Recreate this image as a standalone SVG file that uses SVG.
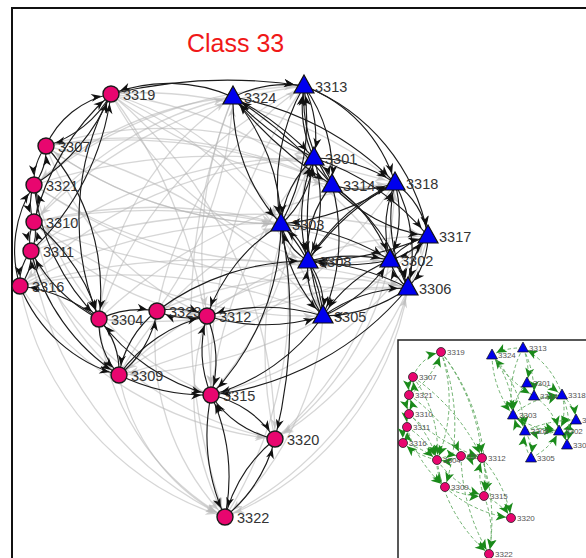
<svg xmlns="http://www.w3.org/2000/svg" xmlns:xlink="http://www.w3.org/1999/xlink" width="586" height="558" viewBox="0 0 586 558">
<style>
.d{fill:none;stroke:#1c1c1c;stroke-width:1.15;marker-end:url(#ad)}
.g{fill:none;stroke:#b4b4b4;stroke-width:1.3;stroke-opacity:0.55;marker-end:url(#ag)}
.i{fill:none;stroke:#5fa85f;stroke-width:0.9;stroke-dasharray:3.5 2.5;marker-end:url(#ai)}
.c{fill:#E8066F;stroke:#1a1a1a;stroke-width:1.4}
.t{fill:#0000EE;stroke:#111;stroke-width:1.2}
.cs{fill:#E8066F;stroke:#222;stroke-width:0.8}
.ts{fill:#0000EE;stroke:#111;stroke-width:0.7}
.l{font-family:"Liberation Sans",Arial,sans-serif;font-size:14.5px;fill:#333}
.s{font-family:"Liberation Sans",Arial,sans-serif;font-size:8px;fill:#555}
</style>
<defs>
<marker id="ad" viewBox="0 0 10 8" refX="20" refY="4" markerWidth="10" markerHeight="8" markerUnits="userSpaceOnUse" orient="auto" overflow="visible"><path d="M0,0 L10,4 L0,8 L3,4 Z" fill="#111"/></marker>
<marker id="ag" viewBox="0 0 10 8" refX="20" refY="4" markerWidth="10" markerHeight="8" markerUnits="userSpaceOnUse" orient="auto" overflow="visible"><path d="M0,0 L10,4 L0,8 L3,4 Z" fill="#bbb" fill-opacity="0.7"/></marker>
<marker id="ai" viewBox="0 0 10 9" refX="15" refY="4.5" markerWidth="10" markerHeight="9" markerUnits="userSpaceOnUse" orient="auto" overflow="visible"><path d="M0,0 L10,4.5 L0,9 L2.5,4.5 Z" fill="#1a8a1a"/></marker>
<path id="tri" d="M0,-11 L10,7 L-10,7 Z"/>
<path id="trs" d="M0,-6 L5.5,4 L-5.5,4 Z"/>
</defs>
<rect width="586" height="558" fill="#fff"/>
<rect x="12" y="8" width="640" height="620" fill="none" stroke="#111" stroke-width="2"/>
<text x="187" y="52" font-family="Liberation Sans, Arial, sans-serif" font-size="25" fill="#F01818">Class 33</text>

<g id="edges">
<g id="edges-weak">
<path class="g" d="M111 94 A300 300 0 0 1 281 224"/>
<path class="g" d="M111 94 A350 350 0 0 0 308 261"/>
<path class="g" d="M111 94 A400 400 0 0 1 323 316"/>
<path class="g" d="M111 94 A400 400 0 0 1 390 260"/>
<path class="g" d="M111 94 A500 500 0 0 1 211 395"/>
<path class="g" d="M111 94 A450 450 0 0 1 275 439"/>
<path class="g" d="M46 146 A400 400 0 0 1 314 158"/>
<path class="g" d="M46 146 A400 400 0 0 0 281 224"/>
<path class="g" d="M46 146 A500 500 0 0 1 332 185"/>
<path class="g" d="M46 146 A300 300 0 0 0 207 316"/>
<path class="g" d="M34 185 A450 450 0 0 1 304 86"/>
<path class="g" d="M34 185 A600 600 0 0 1 395 183"/>
<path class="g" d="M34 185 A450 450 0 0 0 308 261"/>
<path class="g" d="M34 185 A300 300 0 0 0 211 395"/>
<path class="g" d="M34 222 A350 350 0 0 1 233 97"/>
<path class="g" d="M34 222 A500 500 0 0 1 281 224"/>
<path class="g" d="M34 222 A450 450 0 0 0 323 316"/>
<path class="g" d="M34 222 A600 600 0 0 1 390 260"/>
<path class="g" d="M34 222 A300 300 0 0 0 207 316"/>
<path class="g" d="M31 251 A450 450 0 0 1 314 158"/>
<path class="g" d="M31 251 A700 700 0 0 1 428 236"/>
<path class="g" d="M31 251 A350 350 0 0 0 275 439"/>
<path class="g" d="M20 286 A500 500 0 0 1 281 224"/>
<path class="g" d="M20 286 A700 700 0 0 1 408 288"/>
<path class="g" d="M20 286 A300 300 0 0 0 225 517"/>
<path class="g" d="M20 286 A350 350 0 0 0 275 439"/>
<path class="g" d="M99 319 A300 300 0 0 1 233 97"/>
<path class="g" d="M99 319 A500 500 0 0 1 395 183"/>
<path class="g" d="M99 319 A250 250 0 0 0 225 517"/>
<path class="g" d="M157 311 A350 350 0 0 1 304 86"/>
<path class="g" d="M157 311 A400 400 0 0 1 408 288"/>
<path class="g" d="M157 311 A250 250 0 0 0 225 517"/>
<path class="g" d="M207 316 A350 350 0 0 1 428 236"/>
<path class="g" d="M207 316 A250 250 0 0 0 225 517"/>
<path class="g" d="M119 375 A350 350 0 0 1 281 224"/>
<path class="g" d="M119 375 A400 400 0 0 1 390 260"/>
<path class="g" d="M119 375 A200 200 0 0 0 225 517"/>
<path class="g" d="M211 395 A400 400 0 0 0 304 86"/>
<path class="g" d="M211 395 A350 350 0 0 0 428 236"/>
<path class="g" d="M275 439 A350 350 0 0 0 395 183"/>
<path class="g" d="M275 439 A400 400 0 0 1 314 158"/>
<path class="g" d="M225 517 A400 400 0 0 0 281 224"/>
<path class="g" d="M225 517 A350 350 0 0 0 408 288"/>
<path class="g" d="M233 97 A350 350 0 0 0 34 185"/>
<path class="g" d="M304 86 A450 450 0 0 0 34 222"/>
<path class="g" d="M304 86 A400 400 0 0 0 99 319"/>
<path class="g" d="M314 158 A450 450 0 0 0 20 286"/>
<path class="g" d="M332 185 A450 450 0 0 0 46 146"/>
<path class="g" d="M395 183 A400 400 0 0 0 111 94"/>
<path class="g" d="M395 183 A450 450 0 0 1 119 375"/>
<path class="g" d="M281 224 A400 400 0 0 1 46 146"/>
<path class="g" d="M308 261 A450 450 0 0 1 34 222"/>
<path class="g" d="M323 316 A500 500 0 0 0 20 286"/>
<path class="g" d="M390 260 A500 500 0 0 1 99 319"/>
<path class="g" d="M428 236 A450 450 0 0 1 119 375"/>
<path class="g" d="M408 288 A450 450 0 0 0 119 375"/>
<path class="g" d="M408 288 A300 300 0 0 1 225 517"/>
<path class="g" d="M233 97 A600 600 0 0 0 225 517"/>
<path class="g" d="M304 86 A500 500 0 0 0 211 395"/>
<path class="g" d="M323 316 A300 300 0 0 1 225 517"/>
<path class="g" d="M390 260 A300 300 0 0 1 275 439"/>
<path class="g" d="M428 236 A350 350 0 0 1 275 439"/>
<path class="g" d="M31 251 A350 350 0 0 0 225 517"/>
<path class="g" d="M34 222 A250 250 0 0 0 119 375"/>
<path class="g" d="M111 94 A450 450 0 0 0 332 185"/>
<path class="g" d="M46 146 A500 500 0 0 1 323 316"/>
<path class="g" d="M34 185 A600 600 0 0 0 408 288"/>
<path class="g" d="M233 97 A400 400 0 0 0 207 316"/>
<path class="g" d="M157 311 A400 400 0 0 0 233 97"/>
<path class="g" d="M211 395 A450 450 0 0 1 314 158"/>
</g>
<g id="edges-strong">
<path class="d" d="M233 97 A160 160 0 0 0 111 94"/>
<path class="d" d="M111 94 A500 500 0 0 1 304 86"/>
<path class="d" d="M233 97 A120 120 0 0 1 304 86"/>
<path class="d" d="M46 146 A90 90 0 0 1 111 94"/>
<path class="d" d="M111 94 A110 110 0 0 1 46 146"/>
<path class="d" d="M34 185 A200 200 0 0 0 111 94"/>
<path class="d" d="M34 222 A250 250 0 0 1 111 94"/>
<path class="d" d="M31 251 A260 260 0 0 0 111 94"/>
<path class="d" d="M111 94 A260 260 0 0 0 99 319"/>
<path class="d" d="M46 146 A60 60 0 0 0 34 185"/>
<path class="d" d="M34 185 A60 60 0 0 0 46 146"/>
<path class="d" d="M34 185 A50 50 0 0 0 34 222"/>
<path class="d" d="M34 222 A50 50 0 0 0 34 185"/>
<path class="d" d="M34 222 A40 40 0 0 0 31 251"/>
<path class="d" d="M31 251 A40 40 0 0 0 34 222"/>
<path class="d" d="M31 251 A50 50 0 0 0 20 286"/>
<path class="d" d="M20 286 A50 50 0 0 0 31 251"/>
<path class="d" d="M20 286 A120 120 0 0 1 34 185"/>
<path class="d" d="M46 146 A220 220 0 0 1 99 319"/>
<path class="d" d="M34 185 A220 220 0 0 0 99 319"/>
<path class="d" d="M34 222 A200 200 0 0 1 99 319"/>
<path class="d" d="M99 319 A160 160 0 0 1 31 251"/>
<path class="d" d="M99 319 A160 160 0 0 0 20 286"/>
<path class="d" d="M99 319 A100 100 0 0 1 157 311"/>
<path class="d" d="M157 311 A80 80 0 0 1 207 316"/>
<path class="d" d="M207 316 A80 80 0 0 1 157 311"/>
<path class="d" d="M99 319 A80 80 0 0 0 119 375"/>
<path class="d" d="M119 375 A80 80 0 0 0 99 319"/>
<path class="d" d="M119 375 A100 100 0 0 0 157 311"/>
<path class="d" d="M157 311 A100 100 0 0 0 119 375"/>
<path class="d" d="M119 375 A150 150 0 0 1 207 316"/>
<path class="d" d="M99 319 A200 200 0 0 0 211 395"/>
<path class="d" d="M119 375 A200 200 0 0 0 211 395"/>
<path class="d" d="M207 316 A120 120 0 0 1 211 395"/>
<path class="d" d="M211 395 A120 120 0 0 1 207 316"/>
<path class="d" d="M281 224 A180 180 0 0 0 207 316"/>
<path class="d" d="M323 316 A200 200 0 0 0 207 316"/>
<path class="d" d="M207 316 A200 200 0 0 0 323 316"/>
<path class="d" d="M157 311 A250 250 0 0 1 308 261"/>
<path class="d" d="M281 224 A250 250 0 0 1 211 395"/>
<path class="d" d="M323 316 A200 200 0 0 1 211 395"/>
<path class="d" d="M408 288 A300 300 0 0 1 211 395"/>
<path class="d" d="M281 224 A500 500 0 0 1 275 439"/>
<path class="d" d="M211 395 A100 100 0 0 1 275 439"/>
<path class="d" d="M275 439 A100 100 0 0 1 211 395"/>
<path class="d" d="M211 395 A200 200 0 0 0 225 517"/>
<path class="d" d="M225 517 A200 200 0 0 0 211 395"/>
<path class="d" d="M275 439 A150 150 0 0 0 225 517"/>
<path class="d" d="M225 517 A150 150 0 0 0 275 439"/>
<path class="d" d="M31 251 A200 200 0 0 0 119 375"/>
<path class="d" d="M20 286 A150 150 0 0 0 119 375"/>
<path class="d" d="M233 97 A300 300 0 0 1 314 158"/>
<path class="d" d="M314 158 A300 300 0 0 1 233 97"/>
<path class="d" d="M233 97 A400 400 0 0 0 332 185"/>
<path class="d" d="M332 185 A400 400 0 0 0 233 97"/>
<path class="d" d="M233 97 A180 180 0 0 0 281 224"/>
<path class="d" d="M281 224 A200 200 0 0 0 233 97"/>
<path class="d" d="M304 86 A120 120 0 0 1 314 158"/>
<path class="d" d="M314 158 A120 120 0 0 1 304 86"/>
<path class="d" d="M304 86 A200 200 0 0 0 281 224"/>
<path class="d" d="M281 224 A220 220 0 0 0 304 86"/>
<path class="d" d="M304 86 A150 150 0 0 1 395 183"/>
<path class="d" d="M304 86 A150 150 0 0 1 332 185"/>
<path class="d" d="M332 185 A150 150 0 0 1 304 86"/>
<path class="d" d="M314 158 A150 150 0 0 1 395 183"/>
<path class="d" d="M332 185 A100 100 0 0 0 395 183"/>
<path class="d" d="M314 158 A50 50 0 0 1 332 185"/>
<path class="d" d="M314 158 A100 100 0 0 0 281 224"/>
<path class="d" d="M281 224 A100 100 0 0 0 314 158"/>
<path class="d" d="M314 158 A150 150 0 0 1 308 261"/>
<path class="d" d="M308 261 A150 150 0 0 1 314 158"/>
<path class="d" d="M332 185 A150 150 0 0 1 390 260"/>
<path class="d" d="M332 185 A160 160 0 0 0 428 236"/>
<path class="d" d="M332 185 A200 200 0 0 1 408 288"/>
<path class="d" d="M332 185 A100 100 0 0 0 308 261"/>
<path class="d" d="M332 185 A200 200 0 0 1 323 316"/>
<path class="d" d="M281 224 A60 60 0 0 1 308 261"/>
<path class="d" d="M308 261 A60 60 0 0 1 281 224"/>
<path class="d" d="M281 224 A150 150 0 0 0 323 316"/>
<path class="d" d="M323 316 A150 150 0 0 0 281 224"/>
<path class="d" d="M308 261 A80 80 0 0 1 323 316"/>
<path class="d" d="M323 316 A80 80 0 0 1 308 261"/>
<path class="d" d="M390 260 A200 200 0 0 1 308 261"/>
<path class="d" d="M308 261 A200 200 0 0 1 390 260"/>
<path class="d" d="M395 183 A250 250 0 0 0 308 261"/>
<path class="d" d="M395 183 A250 250 0 0 1 281 224"/>
<path class="d" d="M395 183 A120 120 0 0 1 390 260"/>
<path class="d" d="M390 260 A120 120 0 0 1 395 183"/>
<path class="d" d="M395 183 A150 150 0 0 1 408 288"/>
<path class="d" d="M408 288 A150 150 0 0 1 395 183"/>
<path class="d" d="M395 183 A80 80 0 0 1 428 236"/>
<path class="d" d="M428 236 A80 80 0 0 1 390 260"/>
<path class="d" d="M390 260 A80 80 0 0 1 428 236"/>
<path class="d" d="M428 236 A80 80 0 0 1 408 288"/>
<path class="d" d="M408 288 A80 80 0 0 1 428 236"/>
<path class="d" d="M390 260 A50 50 0 0 1 408 288"/>
<path class="d" d="M408 288 A50 50 0 0 1 390 260"/>
<path class="d" d="M323 316 A150 150 0 0 1 408 288"/>
<path class="d" d="M408 288 A150 150 0 0 1 323 316"/>
<path class="d" d="M390 260 A150 150 0 0 0 323 316"/>
<path class="d" d="M323 316 A150 150 0 0 0 390 260"/>
<path class="d" d="M323 316 A300 300 0 0 1 314 158"/>
<path class="d" d="M408 288 A250 250 0 0 0 308 261"/>
<path class="d" d="M308 261 A200 200 0 0 1 395 183"/>
<path class="d" d="M281 224 A250 250 0 0 1 390 260"/>
<path class="d" d="M304 86 A200 200 0 0 1 428 236"/>
<path class="d" d="M314 158 A250 250 0 0 1 428 236"/>
<path class="d" d="M233 97 A300 300 0 0 1 395 183"/>
<path class="d" d="M428 236 A300 300 0 0 1 308 261"/>
</g>
</g>

<g id="nodes">
<g id="n3319"><circle class="c" cx="111" cy="94" r="8"/><text class="l" x="123" y="100">3319</text></g>
<g id="n3307"><circle class="c" cx="46" cy="146" r="8"/><text class="l" x="58" y="152">3307</text></g>
<g id="n3321"><circle class="c" cx="34" cy="185" r="8"/><text class="l" x="46" y="191">3321</text></g>
<g id="n3310"><circle class="c" cx="34" cy="222" r="8"/><text class="l" x="46" y="228">3310</text></g>
<g id="n3311"><circle class="c" cx="31" cy="251" r="8"/><text class="l" x="43" y="257">3311</text></g>
<g id="n3316"><circle class="c" cx="20" cy="286" r="8"/><text class="l" x="32" y="292">3316</text></g>
<g id="n3304"><circle class="c" cx="99" cy="319" r="8"/><text class="l" x="111" y="325">3304</text></g>
<g id="n3323"><circle class="c" cx="157" cy="311" r="8"/><text class="l" x="169" y="317">3323</text></g>
<g id="n3312"><circle class="c" cx="207" cy="316" r="8"/><text class="l" x="219" y="322">3312</text></g>
<g id="n3309"><circle class="c" cx="119" cy="375" r="8"/><text class="l" x="131" y="381">3309</text></g>
<g id="n3315"><circle class="c" cx="211" cy="395" r="8"/><text class="l" x="223" y="401">3315</text></g>
<g id="n3320"><circle class="c" cx="275" cy="439" r="8"/><text class="l" x="287" y="445">3320</text></g>
<g id="n3322"><circle class="c" cx="225" cy="517" r="8"/><text class="l" x="237" y="523">3322</text></g>
<g id="n3324"><use class="t" xlink:href="#tri" x="233" y="97"/><text class="l" x="244" y="103">3324</text></g>
<g id="n3313"><use class="t" xlink:href="#tri" x="304" y="86"/><text class="l" x="315" y="92">3313</text></g>
<g id="n3301"><use class="t" xlink:href="#tri" x="314" y="158"/><text class="l" x="325" y="164">3301</text></g>
<g id="n3314"><use class="t" xlink:href="#tri" x="332" y="185"/><text class="l" x="343" y="191">3314</text></g>
<g id="n3318"><use class="t" xlink:href="#tri" x="395" y="183"/><text class="l" x="406" y="189">3318</text></g>
<g id="n3303"><use class="t" xlink:href="#tri" x="281" y="224"/><text class="l" x="292" y="230">3303</text></g>
<g id="n3317"><use class="t" xlink:href="#tri" x="428" y="236"/><text class="l" x="439" y="242">3317</text></g>
<g id="n3308"><use class="t" xlink:href="#tri" x="308" y="261"/><text class="l" x="319" y="267">3308</text></g>
<g id="n3302"><use class="t" xlink:href="#tri" x="390" y="260"/><text class="l" x="401" y="266">3302</text></g>
<g id="n3306"><use class="t" xlink:href="#tri" x="408" y="288"/><text class="l" x="419" y="294">3306</text></g>
<g id="n3305"><use class="t" xlink:href="#tri" x="323" y="316"/><text class="l" x="334" y="322">3305</text></g>
</g>

<g id="inset">
<rect x="398" y="340" width="220" height="240" fill="#fff" stroke="#222" stroke-width="1.5"/>
<g id="inset-edges">
<path class="i" d="M413 377 A40 40 0 0 1 441 352"/>
<path class="i" d="M409 395 A80 80 0 0 0 441 352"/>
<path class="i" d="M441 352 A150 150 0 0 1 437 460"/>
<path class="i" d="M441 352 A200 200 0 0 1 445 487"/>
<path class="i" d="M441 352 A200 200 0 0 1 484 496"/>
<path class="i" d="M441 352 A200 200 0 0 1 482 458"/>
<path class="i" d="M413 377 A30 30 0 0 0 409 395"/>
<path class="i" d="M409 395 A30 30 0 0 0 413 377"/>
<path class="i" d="M409 395 A30 30 0 0 0 409 414"/>
<path class="i" d="M409 414 A30 30 0 0 0 409 395"/>
<path class="i" d="M409 414 A30 30 0 0 0 407 427"/>
<path class="i" d="M407 427 A30 30 0 0 0 403 443"/>
<path class="i" d="M403 443 A30 30 0 0 0 407 427"/>
<path class="i" d="M413 377 A120 120 0 0 1 437 460"/>
<path class="i" d="M409 414 A100 100 0 0 1 437 460"/>
<path class="i" d="M407 427 A80 80 0 0 1 437 460"/>
<path class="i" d="M437 460 A80 80 0 0 1 403 443"/>
<path class="i" d="M403 443 A80 80 0 0 1 437 460"/>
<path class="i" d="M437 460 A40 40 0 0 1 461 456"/>
<path class="i" d="M461 456 A40 40 0 0 1 437 460"/>
<path class="i" d="M461 456 A40 40 0 0 1 482 458"/>
<path class="i" d="M482 458 A40 40 0 0 1 461 456"/>
<path class="i" d="M437 460 A40 40 0 0 0 445 487"/>
<path class="i" d="M482 458 A60 60 0 0 1 484 496"/>
<path class="i" d="M484 496 A60 60 0 0 1 482 458"/>
<path class="i" d="M445 487 A80 80 0 0 0 484 496"/>
<path class="i" d="M437 460 A100 100 0 0 0 484 496"/>
<path class="i" d="M484 496 A60 60 0 0 1 511 518"/>
<path class="i" d="M445 487 A120 120 0 0 0 511 518"/>
<path class="i" d="M482 458 A120 120 0 0 1 511 518"/>
<path class="i" d="M437 460 A150 150 0 0 0 489 554"/>
<path class="i" d="M461 456 A200 200 0 0 0 489 554"/>
<path class="i" d="M484 496 A100 100 0 0 1 489 554"/>
<path class="i" d="M482 458 A200 200 0 0 1 489 554"/>
<path class="i" d="M413 377 A200 200 0 0 1 482 458"/>
<path class="i" d="M409 395 A150 150 0 0 1 461 456"/>
<path class="i" d="M409 414 A200 200 0 0 0 482 458"/>
<path class="i" d="M407 427 A120 120 0 0 0 445 487"/>
<path class="i" d="M523 348 A60 60 0 0 0 492 355"/>
<path class="i" d="M492 355 A100 100 0 0 0 513 415"/>
<path class="i" d="M513 415 A100 100 0 0 0 492 355"/>
<path class="i" d="M492 355 A120 120 0 0 1 525 431"/>
<path class="i" d="M523 348 A60 60 0 0 1 527 383"/>
<path class="i" d="M523 348 A100 100 0 0 0 513 415"/>
<path class="i" d="M562 395 A80 80 0 0 0 523 348"/>
<path class="i" d="M527 383 A60 60 0 0 1 562 395"/>
<path class="i" d="M534 396 A50 50 0 0 0 562 395"/>
<path class="i" d="M513 415 A80 80 0 0 1 562 395"/>
<path class="i" d="M513 415 A30 30 0 0 1 525 431"/>
<path class="i" d="M525 431 A30 30 0 0 1 513 415"/>
<path class="i" d="M525 431 A40 40 0 0 1 531 458"/>
<path class="i" d="M531 458 A40 40 0 0 1 525 431"/>
<path class="i" d="M525 431 A60 60 0 0 1 559 431"/>
<path class="i" d="M559 431 A60 60 0 0 1 525 431"/>
<path class="i" d="M559 431 A30 30 0 0 1 567 445"/>
<path class="i" d="M562 395 A50 50 0 0 1 559 431"/>
<path class="i" d="M562 395 A40 40 0 0 1 576 420"/>
<path class="i" d="M576 420 A40 40 0 0 1 559 431"/>
<path class="i" d="M531 458 A60 60 0 0 0 559 431"/>
<path class="i" d="M513 415 A80 80 0 0 0 559 431"/>
<path class="i" d="M527 383 A50 50 0 0 0 513 415"/>
<path class="i" d="M492 355 A120 120 0 0 0 534 396"/>
<path class="i" d="M523 348 A100 100 0 0 1 534 396"/>
<path class="i" d="M525 431 A120 120 0 0 1 576 420"/>
<path class="i" d="M534 396 A60 60 0 0 1 559 431"/>
<path class="i" d="M562 395 A80 80 0 0 1 567 445"/>
</g>
<g id="inset-nodes">
<g id="m3319"><circle class="cs" cx="441" cy="352" r="4.5"/><text class="s" x="447" y="355">3319</text></g>
<g id="m3307"><circle class="cs" cx="413" cy="377" r="4.5"/><text class="s" x="419" y="380">3307</text></g>
<g id="m3321"><circle class="cs" cx="409" cy="395" r="4.5"/><text class="s" x="415" y="398">3321</text></g>
<g id="m3310"><circle class="cs" cx="409" cy="414" r="4.5"/><text class="s" x="415" y="417">3310</text></g>
<g id="m3311"><circle class="cs" cx="407" cy="427" r="4.5"/><text class="s" x="413" y="430">3311</text></g>
<g id="m3316"><circle class="cs" cx="403" cy="443" r="4.5"/><text class="s" x="409" y="446">3316</text></g>
<g id="m3304"><circle class="cs" cx="437" cy="460" r="4.5"/><text class="s" x="443" y="463">3304</text></g>
<g id="m3323"><circle class="cs" cx="461" cy="456" r="4.5"/><text class="s" x="467" y="459">3323</text></g>
<g id="m3312"><circle class="cs" cx="482" cy="458" r="4.5"/><text class="s" x="488" y="461">3312</text></g>
<g id="m3309"><circle class="cs" cx="445" cy="487" r="4.5"/><text class="s" x="451" y="490">3309</text></g>
<g id="m3315"><circle class="cs" cx="484" cy="496" r="4.5"/><text class="s" x="490" y="499">3315</text></g>
<g id="m3320"><circle class="cs" cx="511" cy="518" r="4.5"/><text class="s" x="517" y="521">3320</text></g>
<g id="m3322"><circle class="cs" cx="489" cy="554" r="4.5"/><text class="s" x="495" y="557">3322</text></g>
<g id="m3324"><use class="ts" xlink:href="#trs" x="492" y="355"/><text class="s" x="498" y="358">3324</text></g>
<g id="m3313"><use class="ts" xlink:href="#trs" x="523" y="348"/><text class="s" x="529" y="351">3313</text></g>
<g id="m3301"><use class="ts" xlink:href="#trs" x="527" y="383"/><text class="s" x="533" y="386">3301</text></g>
<g id="m3314"><use class="ts" xlink:href="#trs" x="534" y="396"/><text class="s" x="540" y="399">3314</text></g>
<g id="m3318"><use class="ts" xlink:href="#trs" x="562" y="395"/><text class="s" x="568" y="398">3318</text></g>
<g id="m3303"><use class="ts" xlink:href="#trs" x="513" y="415"/><text class="s" x="519" y="418">3303</text></g>
<g id="m3317"><use class="ts" xlink:href="#trs" x="576" y="420"/><text class="s" x="582" y="423">3317</text></g>
<g id="m3308"><use class="ts" xlink:href="#trs" x="525" y="431"/><text class="s" x="531" y="434">3308</text></g>
<g id="m3302"><use class="ts" xlink:href="#trs" x="559" y="431"/><text class="s" x="565" y="434">3302</text></g>
<g id="m3306"><use class="ts" xlink:href="#trs" x="567" y="445"/><text class="s" x="573" y="448">3306</text></g>
<g id="m3305"><use class="ts" xlink:href="#trs" x="531" y="458"/><text class="s" x="537" y="461">3305</text></g>
</g>
</g>
</svg>
